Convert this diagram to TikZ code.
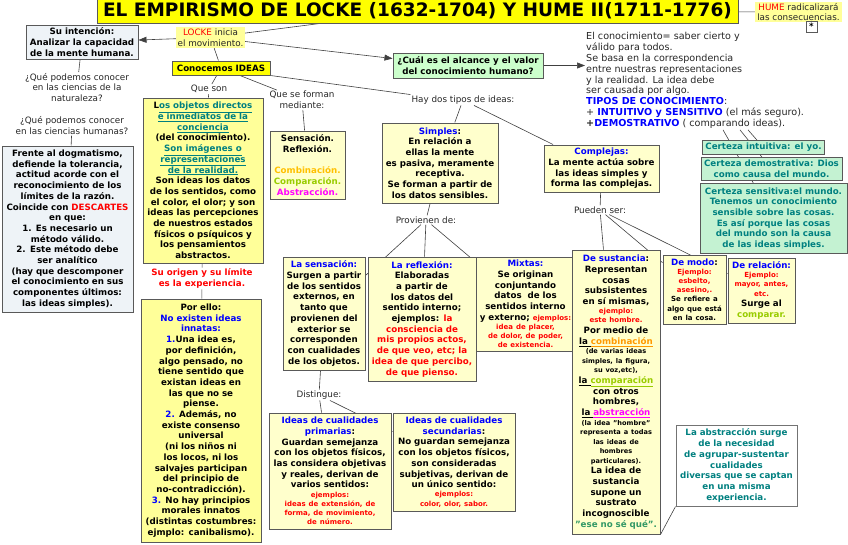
\documentclass[tikz,border=0pt]{standalone}
\usepackage{fontspec}
\setmainfont{DejaVu Sans}
\usetikzlibrary{arrows.meta,backgrounds}

\definecolor{amarillo}{HTML}{FFFF00}
\definecolor{crema}{HTML}{FFFF99}
\definecolor{cremita}{HTML}{FFFFCC}
\definecolor{grisazul}{HTML}{EEF3F7}
\definecolor{verdeclaro}{HTML}{CCFFCC}
\definecolor{menta}{HTML}{C4F2D2}
\definecolor{azul}{HTML}{0000FF}
\definecolor{rojo}{HTML}{FF0000}
\definecolor{petroleo}{HTML}{008080}
\definecolor{naranja}{HTML}{FFC000}
\definecolor{naranjo}{HTML}{FF9900}
\definecolor{lima}{HTML}{99CC00}
\definecolor{fucsia}{HTML}{FF00FF}
\definecolor{hierba}{HTML}{339966}

\newcommand\pinta[2]{\textcolor{#1}{#2}}
\newcommand\enlace[1]{\textcolor{petroleo}{\underline{#1}}}
\newcommand\chica{\fontsize{7}{9.2}\selectfont}
\newcommand\minima{\fontsize{6.6}{9.5}\selectfont}

\begin{document}
\begin{tikzpicture}[x=1pt,y=-1pt,
    caja/.style={draw=black!65,line width=1pt,align=center,inner xsep=1pt,inner ysep=1pt,
                 font=\bfseries\fontsize{8.7}{10.7}\selectfont},
    amar/.style={caja,fill=crema},
    pal/.style={caja,fill=cremita},
    gris/.style={caja,fill=grisazul},
    cert/.style={caja,fill=menta,text=petroleo},
    rot/.style={align=center,inner sep=1pt,text=black!85,font=\fontsize{8.8}{10.7}\selectfont},
    cnx/.style={draw=black!75,line width=0.6pt},
    fl/.style={cnx,-{Triangle[length=8pt,width=6pt]}}]
  \useasboundingbox (0,0) rectangle (848,544);
  % title and Locke / Hume
  \node[caja,fill=amarillo,font=\bfseries\fontsize{18.5}{20}\selectfont,
        minimum width=641pt,minimum height=24pt,inner sep=0pt] (titulo) at (417.5,11)
    {EL EMPIRISMO DE LOCKE (1632-1704) Y HUME II(1711-1776)};
  \node[rot,fill=crema,minimum width=87pt,minimum height=20pt] (hume) at (798.5,12)
    {\pinta{rojo}{HUME} radicalizará\\las consecuencias.};
  \node[caja,fill=white,minimum size=11pt,inner sep=0pt] (nota) at (811.5,26.5) {*};
  \node[rot,fill=crema,minimum width=69pt,minimum height=21pt] (locke) at (210.5,37.5)
    {\pinta{rojo}{LOCKE} inicia\\el movimiento.};
  % left column
  \node[gris,text width=110pt,minimum height=34pt] (intencion) at (82,42)
    {Su intención:\\Analizar la capacidad\\de la mente humana.};
  \node[rot] (preg1) at (77,87.5) {¿Qué podemos conocer\\en las ciencias de la\\naturaleza?};
  \node[rot] (preg2) at (72,125.5) {¿Qué podemos conocer\\en las ciencias humanas?};
  \node[gris,text width=129pt,minimum height=166pt] (frente) at (67.5,229)
    {Frente al dogmatismo,\\defiende la tolerancia,\\actitud acorde con el\\reconocimiento de los\\límites de la razón.\\Coincide con \pinta{rojo}{DESCARTES}\\en que:\\1. Es necesario un\\método válido.\\2. Este método debe\\ser analítico\\(hay que descomponer\\el conocimiento en sus\\componentes últimos:\\las ideas simples).};
  % ideas
  \node[caja,fill=amarillo,minimum width=98pt,minimum height=14pt,inner sep=0pt] (conocemos) at (221,68) {Conocemos IDEAS};
  \node[rot] (queson) at (209,89) {Que son};
  \node[rot] (queforman) at (302,100) {Que se forman\\mediante:};
  \node[rot] (haydos) at (463,100) {Hay dos tipos de ideas:};
  \node[amar,text width=118pt,minimum height=165pt] (objetos) at (203,180.5)
    {L\enlace{os objetos directos}\\\enlace{e inmediatos de la}\\\enlace{conciencia}\\(del conocimiento).\\\enlace{Son imágenes o}\\\enlace{representaciones}\\\enlace{de la realidad.}\\Son ideas los datos\\de los sentidos, como\\el color, el olor; y son\\ideas las percepciones\\de nuestros estados\\físicos o psíquicos y\\los pensamientos\\abstractos.};
  \node[rot,text=rojo,font=\bfseries\fontsize{8.7}{10.7}\selectfont] (origen) at (202,278.5)
    {Su origen y su límite\\es la experiencia.};
  \node[amar,text width=118pt,minimum height=243pt] (porello) at (201,420.5)
    {Por ello:\\\pinta{azul}{No existen ideas}\\\pinta{azul}{innatas:}\\\pinta{azul}{1.}Una idea es,\\por definición,\\algo pensado, no\\tiene sentido que\\existan ideas en\\las que no se\\piense.\\\pinta{azul}{2.} Además, no\\existe consenso\\universal\\(ni los niños ni\\los locos, ni los\\salvajes participan\\del principio de\\no-contradicción).\\\pinta{azul}{3.} No hay principios\\morales innatos\\(distintas costumbres:\\ejmplo: canibalismo).};
  \node[pal,text width=73pt,minimum height=68pt] (mediante) at (307.5,165)
    {Sensación.\\Reflexión.\\[10.7pt]\pinta{naranja}{Combinación.}\\\pinta{lima}{Comparación.}\\\pinta{fucsia}{Abstracción.}};
  % simple ideas
  \node[pal,text width=114pt,minimum height=80pt] (simples) at (440,163)
    {\pinta{azul}{Simples}:\\En relación a\\ellas la mente\\es pasiva, meramente\\receptiva.\\Se forman a partir de\\los datos sensibles.};
  \node[rot] (provienen) at (426,220) {Provienen de:};
  \node[pal,text width=80pt,minimum height=113pt] (sensacion) at (324,313.5)
    {\pinta{azul}{La sensación:}\\Surgen a partir\\de los sentidos\\externos, en\\tanto que\\provienen del\\exterior se\\corresponden\\con cualidades\\de los objetos.};
  \node[pal,text width=106pt,minimum height=124pt] (reflexion) at (422,319)
    {\pinta{azul}{La reflexión:}\\Elaboradas\\a partir de\\los datos del\\sentido interno;\\ejemplos: \pinta{rojo}{la}\\\color{rojo}consciencia de\\mis propios actos,\\de que veo, etc; la\\idea de que percibo,\\de que pienso.};
  \node[pal,text width=98pt,inner xsep=0.5pt,minimum height=94pt] (mixtas) at (525.5,304)
    {\pinta{azul}{Mixtas:}\\Se originan\\conjuntando\\datos\ \ de los\\sentidos interno\\y externo; {\chica\pinta{rojo}{ejemplos:}}\par
     {\chica\color{rojo}idea de placer,\\de dolor, de poder,\\de existencia.\par}};
  \node[rot] (distingue) at (319,395) {Distingue:};
  \node[pal,text width=120pt,minimum height=116pt] (primarias) at (330,471)
    {\pinta{azul}{Ideas de cualidades}\\\pinta{azul}{primarias}:\\Guardan semejanza\\con los objetos físicos,\\las considera objetivas\\y reales, derivan de\\varios sentidos:\par
     {\chica\color{rojo}ejemplos:\\ideas de extensión, de\\forma, de movimiento,\\de número.\par}};
  \node[pal,text width=120pt,minimum height=98pt] (secundarias) at (454,462)
    {\pinta{azul}{Ideas de cualidades}\\\pinta{azul}{secundarias}:\\No guardan semejanza\\con los objetos físicos,\\son consideradas\\subjetivas, derivan de\\un único sentido:\par
     {\chica\color{rojo}ejemplos:\\color, olor, sabor.\par}};
  % complex ideas
  \node[pal,text width=113pt,minimum height=47pt] (complejas) at (601.5,168.5)
    {\pinta{azul}{Complejas:}\\La mente actúa sobre\\las ideas simples y\\forma las complejas.};
  \node[rot] (pueden) at (600,210) {Pueden ser:};
  \node[pal,text width=86pt,minimum height=284pt] (sustancia) at (616,392)
    {\pinta{azul}{De sustancia}:\\Representan\\cosas\\subsistentes\\en sí mismas,\par
     {\chica\color{rojo}ejemplo:\\este hombre.\par}
     Por medio de\\\underline{la }\textcolor{naranjo}{\underline{combinación}}\par
     {\minima(de varias ideas\\simples, la figura,\\su voz,etc),\par}
     \underline{la }\textcolor{lima}{\underline{comparación}}\\con otros\\hombres,\\\underline{la }\textcolor{fucsia}{\underline{abstracción}}\par
     {\minima(la idea "hombre"\\representa a todas\\las ideas de\\hombres\\particulares).\par}
     La idea de\\sustancia\\supone un\\sustrato\\incognoscible\\\pinta{hierba}{"ese no sé qué".}};
  \node[pal,text width=61pt,minimum height=69pt] (modo) at (694.5,289.5)
    {\pinta{azul}{De modo}:\par{\chica\color{rojo}Ejemplo:\\esbelto,\\asesino,.\par}{\chica Se refiere a\\algo que está\\en la cosa.\par}};
  \node[pal,text width=65pt,minimum height=65pt] (relacion) at (761.5,290.5)
    {\pinta{azul}{De relación:}\par{\chica\color{rojo}Ejemplo:\\mayor, antes,\\etc.\par}Surge al\\\pinta{lima}{comparar.}};
  \node[caja,fill=white,text=petroleo,draw=black!55,text width=119pt,minimum height=81pt] (abstrac) at (736.5,465.5)
    {La abstracción surge\\de la necesidad\\de agrupar-sustentar\\cualidades\\diversas que se captan\\en una misma\\experiencia.};
  % knowledge
  \node[caja,fill=verdeclaro,minimum width=150pt,minimum height=25pt] (alcance) at (468,65.5)
    {¿Cuál es el alcance y el valor\\del conocimiento humano?};
  \node[rot,align=left,anchor=north west,font=\fontsize{9.6}{10.9}\selectfont] (conoc) at (585,31)
    {El conocimiento= saber cierto y\\válido para todos.\\Se basa en la correspondencia\\entre nuestras representaciones\\y la realidad. La idea debe\\ser causada por algo.\\\textbf{\pinta{azul}{TIPOS DE CONOCIMIENTO}}:\\+ \textbf{\pinta{azul}{INTUITIVO y SENSITIVO}} (el más seguro).\\\textbf{+\pinta{azul}{DEMOSTRATIVO}} ( comparando ideas).};
  \node[cert,minimum width=122pt,minimum height=14pt] (cintuit) at (763.5,147.5) {Certeza intuitiva: el yo.};
  \node[cert,minimum width=141pt,minimum height=23pt] (cdemos) at (771.5,169)
    {Certeza demostrativa: Dios\\como causa del mundo.};
  \node[cert,minimum width=147pt,minimum height=70pt] (csensit) at (773.5,218.5)
    {Certeza sensitiva:el mundo.\\Tenemos un conocimiento\\sensible sobre las cosas.\\Es así porque las cosas\\del mundo son la causa\\de las ideas simples.};
  \coordinate (t1) at ([xshift=138pt]conoc.south west);
  \coordinate (t2) at ([xshift=155pt]conoc.south west);
  \coordinate (t3) at ([xshift=163pt]conoc.south west);
  % connectors
  \begin{scope}[on background layer]
    \foreach \a/\b in {titulo/hume,locke/titulo,locke/conocemos,intencion/preg1,preg2/frente,
        conocemos/queson,queson/objetos,conocemos/queforman,queforman/mediante,
        objetos/origen,origen/porello,haydos/simples,haydos/complejas,simples/provienen,
        provienen/sensacion,provienen/reflexion,provienen/mixtas,sensacion/distingue,
        distingue/primarias,distingue/secundarias,complejas/pueden,pueden/sustancia,
        pueden/modo,pueden/relacion,t1/csensit,t2/cdemos,t3/cintuit}
      \draw[cnx] (\a) -- (\b);
    \draw[cnx] (conocemos.south east) -- (haydos.north west);
    \draw[cnx] (sustancia.south east) -- (abstrac.south west);
    \draw[fl] (locke) -- (intencion);
    \draw[fl] (locke) -- ([yshift=7pt]alcance.west);
    \draw[fl] (alcance.east) -- (alcance.east -| conoc.west);
  \end{scope}
\end{tikzpicture}
\end{document}
